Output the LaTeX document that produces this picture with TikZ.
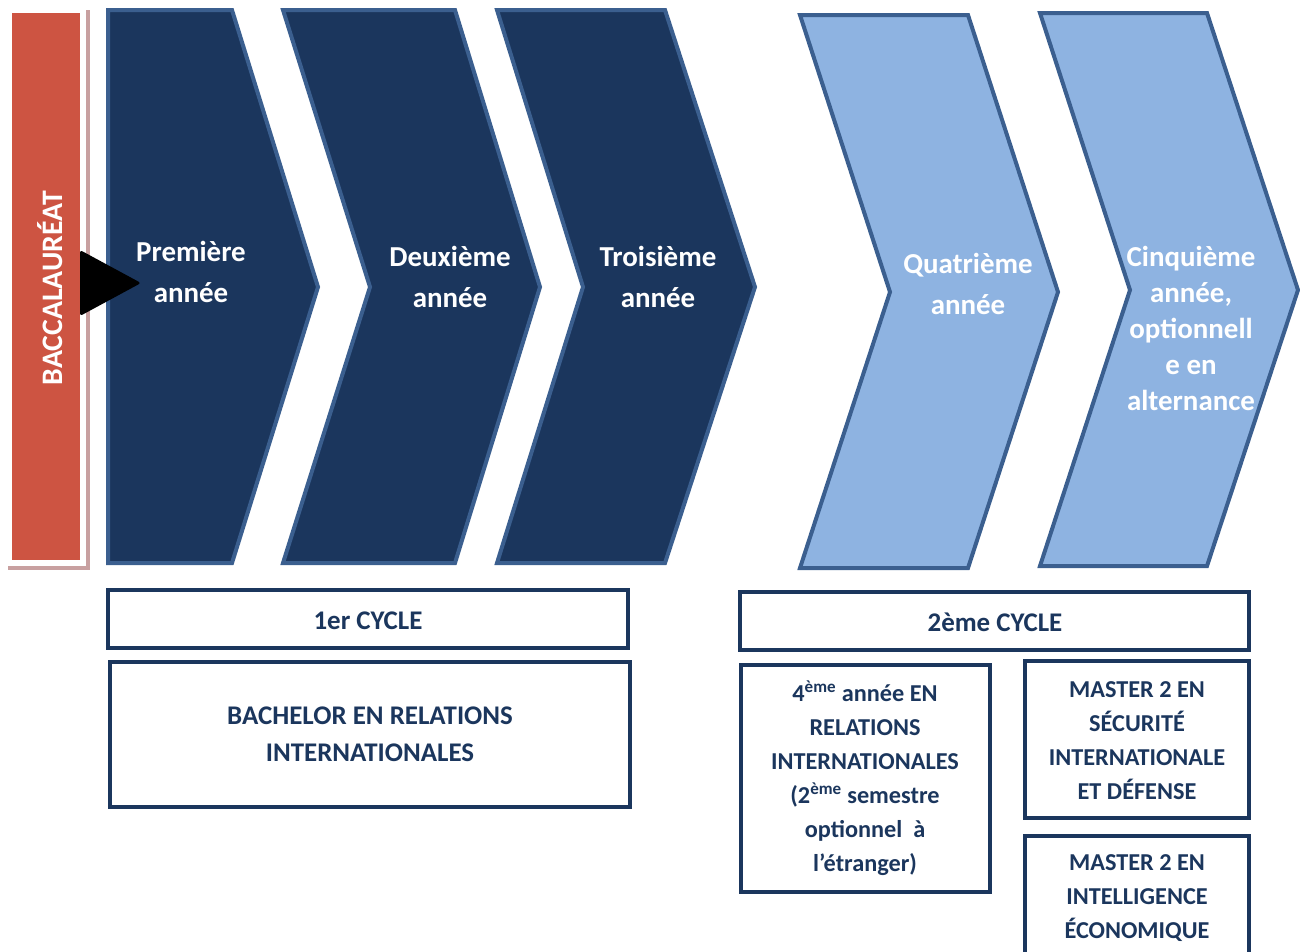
\documentclass[tikz,border=0pt]{standalone}
\usepackage{fontspec}
\setmainfont{Carlito}
\definecolor{navy}{HTML}{1B365D}
\definecolor{chevline}{HTML}{3B5F8F}
\definecolor{lightblue}{HTML}{8EB3E1}
\definecolor{bacred}{HTML}{CD5442}
\definecolor{bacshadow}{HTML}{C8A0A0}
\begin{document}
\begin{tikzpicture}[x=0.75pt,y=-0.75pt,
  darkchev/.style={fill=navy,draw=chevline,line width=3pt,line join=miter},
  lightchev/.style={fill=lightblue,draw=chevline,line width=3pt,line join=miter},
  chevtext/.style={text=white,align=center,font=\bfseries\fontsize{21.7}{30.75}\selectfont,inner sep=0pt},
  cyclebox/.style={draw=navy,fill=white,line width=3.7pt,inner sep=0pt},
  bigtext/.style={text=navy,align=center,font=\bfseries\fontsize{20.2}{27.75}\selectfont,inner sep=0pt},
  smalltext/.style={text=navy,align=center,font=\bfseries\fontsize{18.2}{25.5}\selectfont,inner sep=0pt}]
\useasboundingbox (0,0) rectangle (1300,951);
\clip (0,0) rectangle (1300,951);
% Baccalaureat bar
\fill[bacshadow] (8,10) rectangle (90,570);
\fill[white] (8,10) rectangle (86,566);
\fill[bacred] (12,13) rectangle (80,560);
\node[rotate=90,text=white,font=\bfseries\fontsize{22.3}{26}\selectfont,inner sep=0pt] (bac) at (50,288) {BACCALAURÉAT};
% dark chevrons
\draw[darkchev] (108,10) -- (232,10) -- (318,287) -- (232,563) -- (108,563) -- cycle;
\draw[darkchev] (283,10) -- (455,10) -- (540,287) -- (455,563) -- (283,563) -- (370,287) -- cycle;
\draw[darkchev] (497,10) -- (665,10) -- (755,287) -- (665,563) -- (497,563) -- (583,287) -- cycle;
% light chevrons
\draw[lightchev] (800,15) -- (968,15) -- (1058,292) -- (968,568) -- (800,568) -- (890,292) -- cycle;
\draw[lightchev] (1040,13) -- (1207,13) -- (1298,290) -- (1207,566) -- (1040,566) -- (1130,290) -- cycle;
% arrow head
\fill[black,rounded corners=2pt] (80,250) -- (141,283) -- (80,316) -- cycle;
% chevron texts
\node[chevtext] (y1) at (191,272) {Première\\année};
\node[chevtext] (y2) at (450,277) {Deuxième\\année};
\node[chevtext] (y3) at (658,277) {Troisième\\année};
\node[chevtext] (y4) at (968,284) {Quatrième\\année};
\node[chevtext,font=\bfseries\fontsize{21.7}{27}\selectfont] (y5) at (1191,328) {Cinquième\\année,\\optionnell\\e en\\alternance};
% cycle boxes
\draw[cyclebox] (108,590) rectangle (628,648);
\node[bigtext] (c1) at (368,621) {1er CYCLE};
\draw[cyclebox] (110,662) rectangle (630,807);
\node[bigtext] (bach) at (370,734) {BACHELOR EN RELATIONS\\INTERNATIONALES};
\draw[cyclebox] (740,592) rectangle (1249,650);
\node[bigtext] (c2) at (995,622) {2ème CYCLE};
\draw[cyclebox] (741,665) rectangle (990,892);
\node[smalltext] (m1) at (865,778) {4\textsuperscript{ème} année EN\\RELATIONS\\INTERNATIONALES\\(2\textsuperscript{ème} semestre\\optionnel~ à\\l’étranger)};
\draw[cyclebox] (1025,661) rectangle (1249,818);
\node[smalltext] (m2) at (1137,741) {MASTER 2 EN\\SÉCURITÉ\\INTERNATIONALE\\ET DÉFENSE};
\draw[cyclebox] (1025,836) rectangle (1249,975);
\node[smalltext] (m3) at (1137,898) {MASTER 2 EN\\INTELLIGENCE\\ÉCONOMIQUE};
\end{tikzpicture}
\end{document}
